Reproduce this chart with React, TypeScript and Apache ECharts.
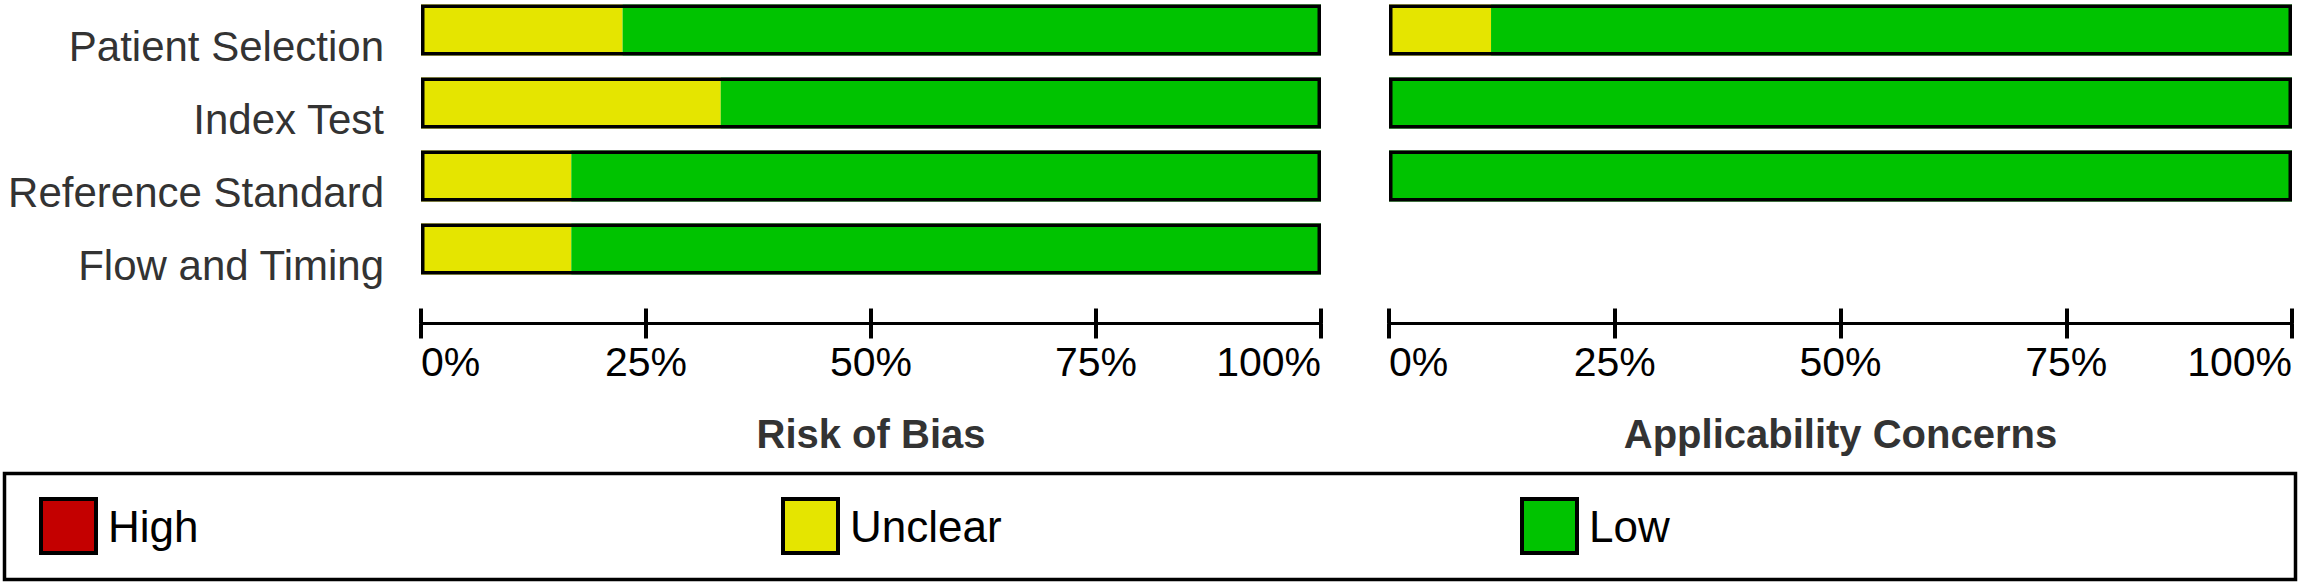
import React, { useEffect, useRef } from "react";
import * as echarts from "echarts";

const categories = ["Patient Selection", "Index Test", "Reference Standard", "Flow and Timing"];
const legendItems = ["High", "Unclear", "Low"];

// Risk of Bias (% of studies)
const riskHigh = [0, 0, 0, 0];
const riskUnclear = [22.4, 33.3, 16.7, 16.7];
const riskLow = [77.6, 66.7, 83.3, 83.3];

// Applicability Concerns (% of studies) – no Flow and Timing domain
const applHigh: (number | string)[] = [0, 0, 0, "-"];
const applUnclear: (number | string)[] = [11.3, 0, 0, "-"];
const applLow: (number | string)[] = [88.7, 100, 100, "-"];

const riskFrame = [100, 100, 100, 100];
const applFrame: (number | string)[] = [100, 100, 100, "-"];

const axisMin = 0;
const axisMax = 100;
const axisInterval = 25;
const panelTitles = ["Risk of Bias", "Applicability Concerns"];

const colors: Record<string, string> = {
  High: "#C40000",
  Unclear: "#E5E500",
  Low: "#00C300",
};

const FONT = "'Liberation Sans', Arial, Helvetica, sans-serif";

export default function App() {
  const ref = useRef<HTMLDivElement>(null);

  useEffect(() => {
    document.body.style.margin = "0";
    if (!ref.current) return;
    const chart = echarts.init(ref.current, undefined, { renderer: "svg" });

    const gridTop = -6.5;
    const gridHeight = 292;
    const axisOffset = 38;
    const barWidth = 51;

    const makeXAxes = (gridIndex: number, title: string) => [
      {
        type: "value",
        gridIndex,
        min: axisMin,
        max: axisMax,
        interval: axisInterval,
        position: "bottom",
        offset: axisOffset,
        splitLine: { show: false },
        axisLine: { show: true, lineStyle: { color: "#000", width: 3 } },
        axisTick: { show: true, length: 15, lineStyle: { color: "#000", width: 4 } },
        axisLabel: {
          formatter: "{value}%",
          fontSize: 41,
          color: "#000",
          fontFamily: FONT,
          margin: 18,
          alignMinLabel: "left",
          alignMaxLabel: "right",
        },
        name: title,
        nameLocation: "middle",
        nameGap: 90,
        nameTextStyle: { fontSize: 40, fontWeight: "bold", color: "#333", fontFamily: FONT },
      },
      {
        type: "value",
        gridIndex,
        min: axisMin,
        max: axisMax,
        interval: axisInterval,
        position: "bottom",
        offset: axisOffset,
        splitLine: { show: false },
        axisLine: { show: false },
        axisTick: { show: true, inside: true, length: 15, lineStyle: { color: "#000", width: 4 } },
        axisLabel: { show: false },
      },
    ];

    const makeSeries = (
      idx: number,
      high: (number | string)[],
      unclear: (number | string)[],
      low: (number | string)[],
      frame: (number | string)[]
    ) => {
      const common = {
        type: "bar",
        xAxisIndex: idx * 2,
        yAxisIndex: idx,
        stack: "s" + idx,
        barWidth,
      };
      return [
        { ...common, name: "High", data: high, itemStyle: { color: colors.High } },
        { ...common, name: "Unclear", data: unclear, itemStyle: { color: colors.Unclear } },
        { ...common, name: "Low", data: low, itemStyle: { color: colors.Low } },
        {
          type: "bar",
          name: "frame" + idx,
          xAxisIndex: idx * 2,
          yAxisIndex: idx,
          barWidth,
          barGap: "-100%",
          data: frame,
          itemStyle: { color: "rgba(0,0,0,0)", borderColor: "#000", borderWidth: 3.5 },
          z: 5,
        },
      ];
    };

    const legendLefts = [39, 781, 1520];

    const option: any = {
      animation: false,
      textStyle: { fontFamily: FONT },
      grid: [
        { left: 421, width: 900, top: gridTop, height: gridHeight, containLabel: false, outerBoundsMode: "none" },
        { left: 1389, width: 903, top: gridTop, height: gridHeight, containLabel: false, outerBoundsMode: "none" },
      ],
      xAxis: [...makeXAxes(0, panelTitles[0]), ...makeXAxes(1, panelTitles[1])],
      yAxis: [
        {
          type: "category",
          gridIndex: 0,
          data: categories,
          inverse: true,
          axisLine: { show: false },
          axisTick: { show: false },
          splitLine: { show: false },
          axisLabel: {
            fontSize: 42,
            color: "#333",
            fontFamily: FONT,
            margin: 37,
            verticalAlign: "top",
            lineHeight: 32,
          },
        },
        {
          type: "category",
          gridIndex: 1,
          data: categories,
          inverse: true,
          axisLine: { show: false },
          axisTick: { show: false },
          splitLine: { show: false },
          axisLabel: { show: false },
        },
      ],
      legend: legendItems.map((name, i) => ({
        data: [name],
        left: legendLefts[i],
        top: 497,
        padding: 0,
        icon: "rect",
        itemWidth: 55,
        itemHeight: 54,
        selectedMode: false,
        itemStyle: { borderColor: "#000", borderWidth: 4 },
        textStyle: { fontSize: 44, color: "#000", fontFamily: FONT, padding: [0, 0, 0, 7] },
      })),
      graphic: [
        {
          type: "rect",
          shape: { x: 4.5, y: 473.5, width: 2291, height: 106 },
          style: { fill: "none", stroke: "#000", lineWidth: 3.5 },
          silent: true,
        },
      ],
      series: [
        ...makeSeries(0, riskHigh, riskUnclear, riskLow, riskFrame),
        ...makeSeries(1, applHigh, applUnclear, applLow, applFrame),
      ],
    };

    chart.setOption(option);
    return () => chart.dispose();
  }, []);

  return <div ref={ref} style={{ width: 2301, height: 585 }} />;
}
